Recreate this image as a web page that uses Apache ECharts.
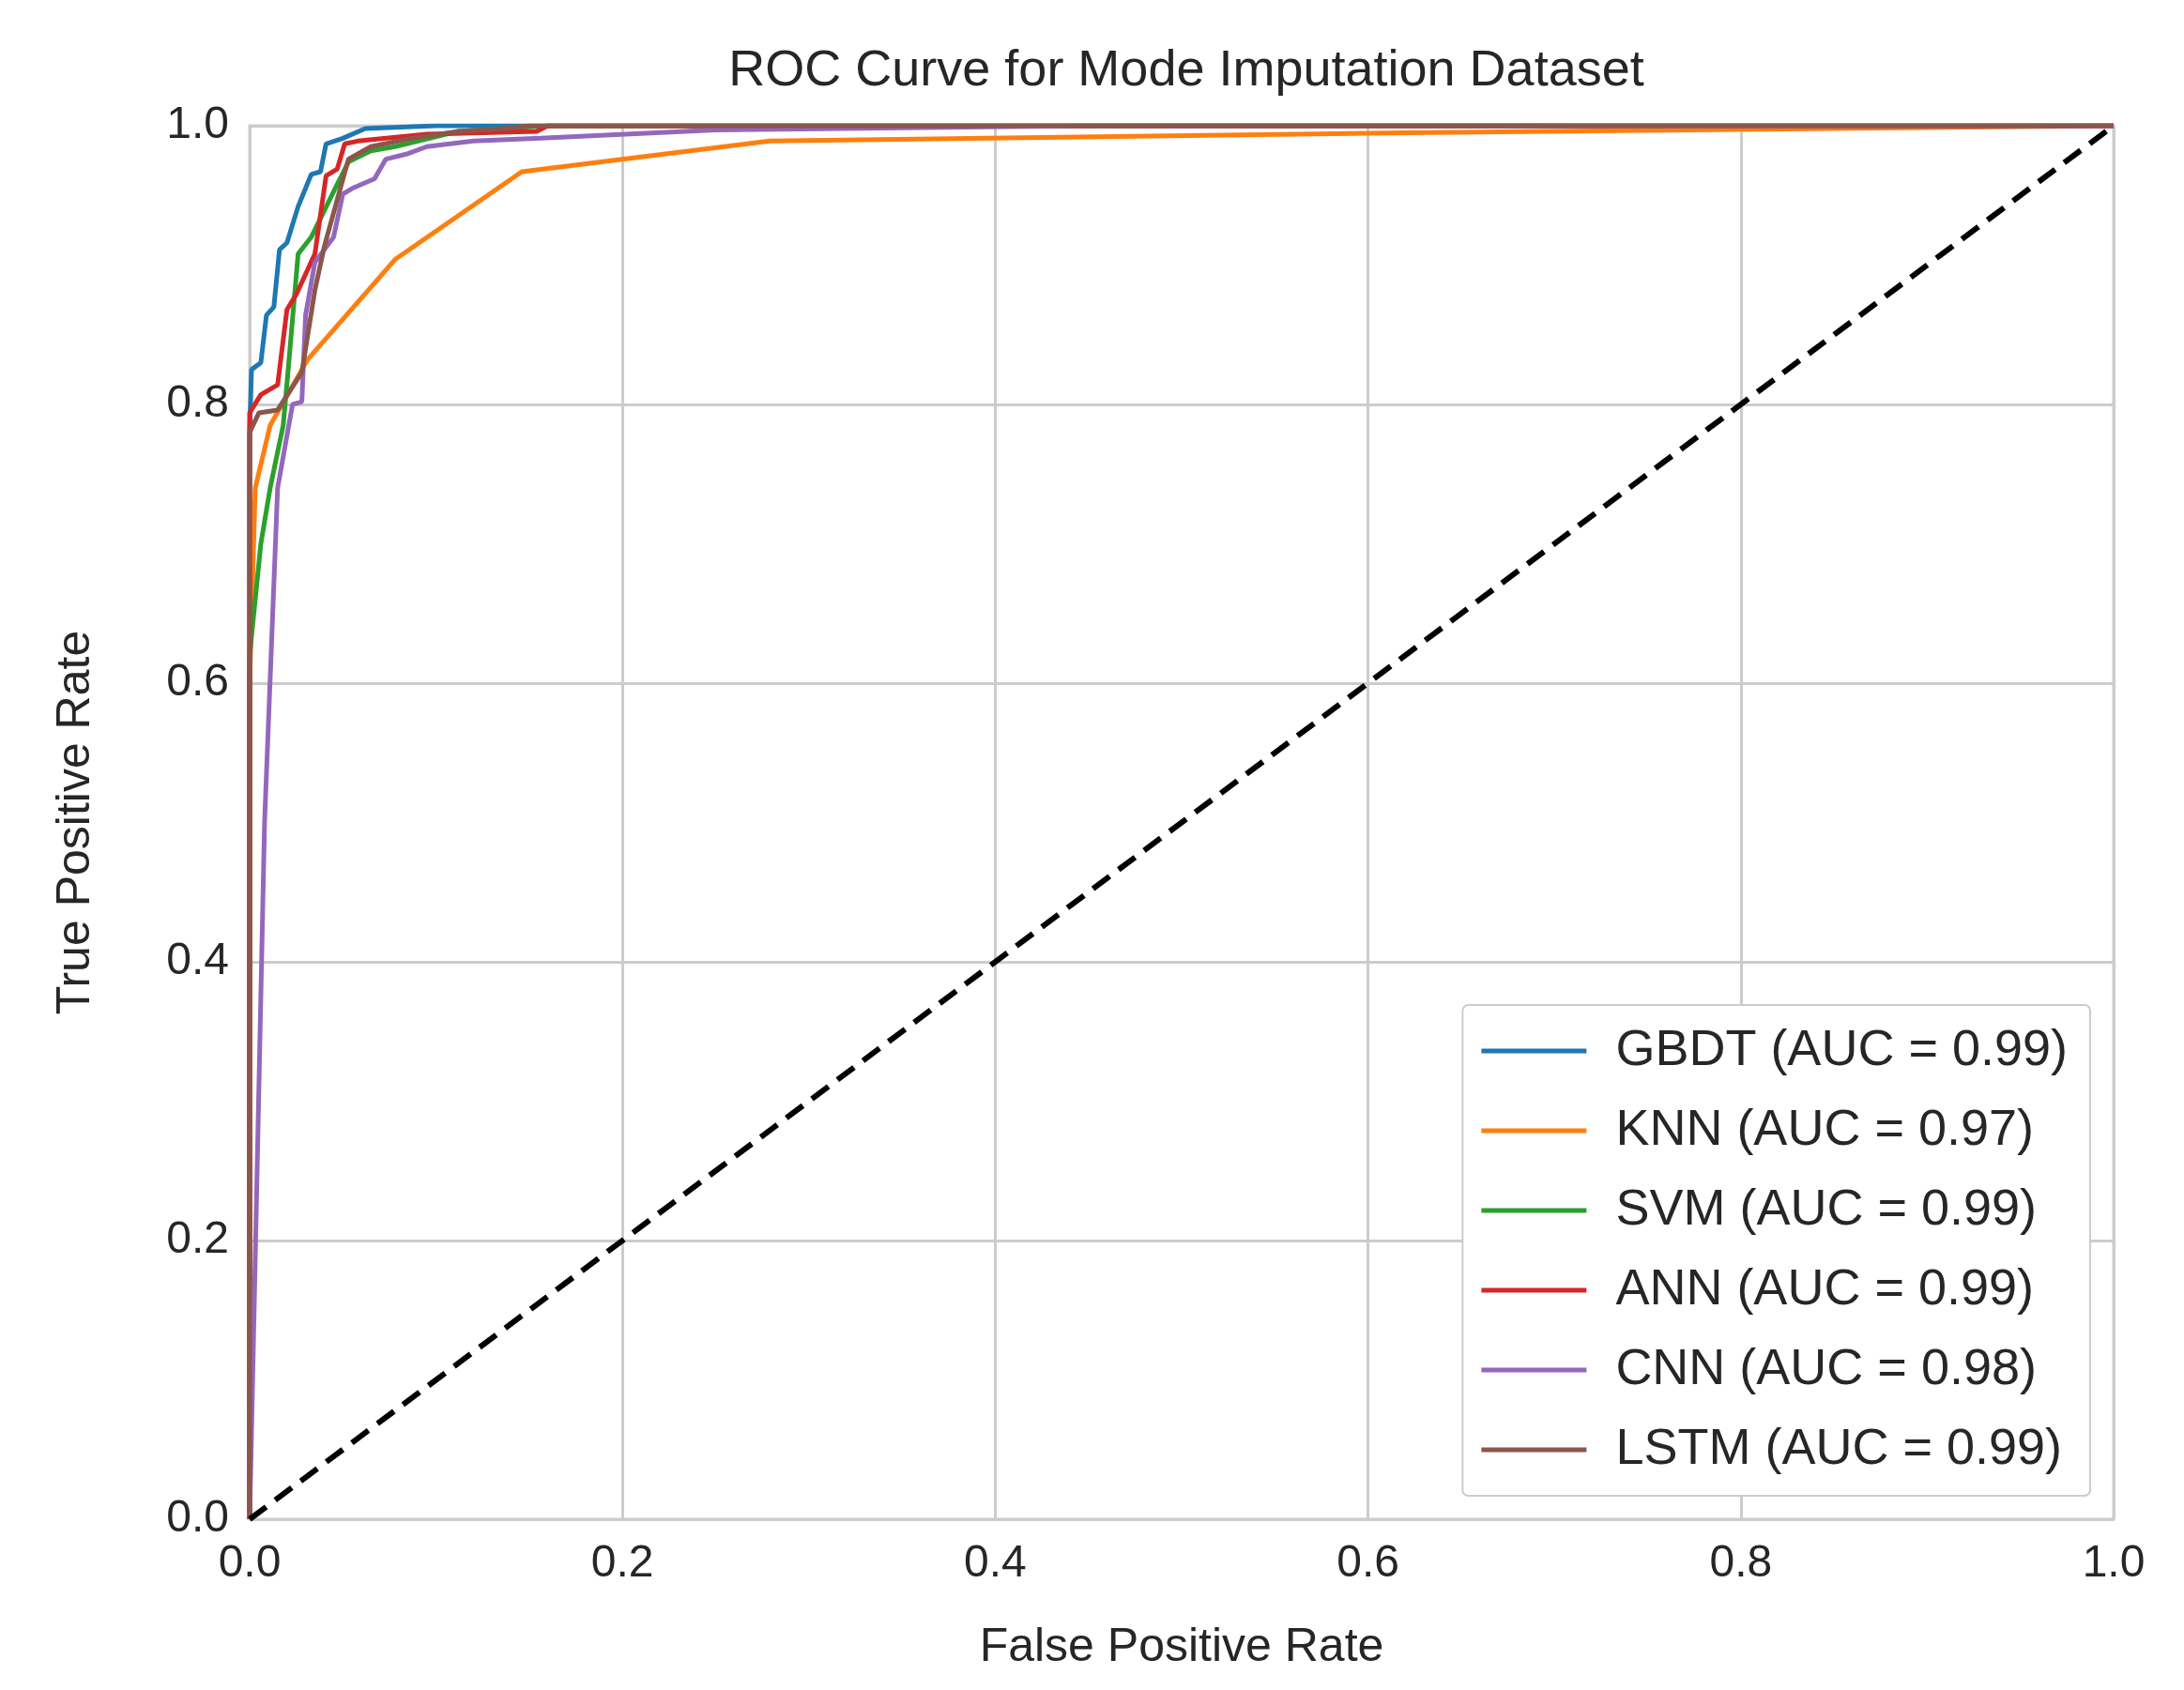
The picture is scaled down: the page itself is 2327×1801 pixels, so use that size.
<!DOCTYPE html>
<html>
<head>
<meta charset="utf-8">
<script src="https://cdn.jsdelivr.net/npm/echarts@6/dist/echarts.min.js"></script>
<style>html,body{margin:0;background:#fff}#c{width:2327px;height:1801px}</style>
</head>
<body>
<div id="c"></div>
<script>
// ROC points [fpr, tpr]
var names = ['GBDT (AUC = 0.99)', 'KNN (AUC = 0.97)', 'SVM (AUC = 0.99)', 'ANN (AUC = 0.99)', 'CNN (AUC = 0.98)', 'LSTM (AUC = 0.99)'];
var colors = ['#1f77b4', '#ff7f0e', '#2ca02c', '#d62728', '#9467bd', '#8c564b'];
var gbdt = [[0,0],[0,0.78],[0.001,0.825],[0.006,0.83],[0.009,0.864],[0.013,0.87],[0.016,0.911],[0.02,0.916],[0.026,0.942],[0.033,0.965],[0.038,0.967],[0.041,0.987],[0.05,0.991],[0.062,0.998],[0.1,1],[1,1]];
var knn = [[0,0],[0,0.6],[0.003,0.74],[0.011,0.785],[0.031,0.832],[0.078,0.904],[0.146,0.967],[0.279,0.989],[0.62,0.995],[1,1]];
var svm = [[0,0],[0,0.62],[0.006,0.7],[0.011,0.74],[0.018,0.785],[0.021,0.83],[0.026,0.908],[0.033,0.92],[0.047,0.958],[0.053,0.974],[0.065,0.982],[0.078,0.985],[0.112,0.996],[0.16,1],[1,1]];
var ann = [[0,0],[0,0.794],[0.006,0.807],[0.015,0.814],[0.02,0.868],[0.025,0.879],[0.035,0.908],[0.041,0.964],[0.047,0.969],[0.051,0.987],[0.058,0.989],[0.095,0.994],[0.154,0.996],[0.16,1],[1,1]];
var cnn = [[0,0],[0.008,0.5],[0.015,0.74],[0.023,0.8],[0.028,0.802],[0.03,0.864],[0.035,0.902],[0.045,0.92],[0.05,0.951],[0.055,0.955],[0.067,0.962],[0.073,0.976],[0.085,0.98],[0.095,0.985],[0.12,0.989],[0.156,0.991],[0.25,0.997],[0.45,1],[1,1]];
var lstm = [[0,0],[0,0.78],[0.005,0.794],[0.015,0.796],[0.028,0.823],[0.035,0.882],[0.04,0.913],[0.047,0.947],[0.053,0.976],[0.065,0.985],[0.087,0.991],[0.112,0.996],[0.137,0.998],[0.15,1],[1,1]];
var diag = [[0,0],[1,1]];
var curves = [gbdt, knn, svm, ann, cnn, lstm];

var txt = '#262626';
var font = 'Liberation Sans';
var series = curves.map(function (d, i) {
  return { name: names[i], type: 'line', data: d, symbol: 'none', color: colors[i],
    lineStyle: { width: 5, color: colors[i] }, z: 3 };
});
series.push({ name: 'diag', type: 'line', data: diag, symbol: 'none',
  lineStyle: { width: 6, color: '#000', type: [22, 12] }, z: 4 });

var chart = echarts.init(document.getElementById('c'));
chart.setOption({
  backgroundColor: '#fff',
  animation: false,
  textStyle: { fontFamily: font, color: txt },
  title: { text: 'ROC Curve for Mode Imputation Dataset', left: 1259, textAlign: 'center', top: 44,
    textStyle: { fontFamily: font, fontSize: 54, fontWeight: 'normal', color: txt } },
  grid: { left: 266, right: 75, top: 134, bottom: 182, show: true, borderColor: '#cccccc', borderWidth: 3 },
  xAxis: { type: 'value', min: 0, max: 1, interval: 0.2,
    name: 'False Positive Rate', nameLocation: 'middle', nameGap: 112,
    nameTextStyle: { fontSize: 50, color: txt, fontFamily: font },
    axisLine: { show: false }, axisTick: { show: false },
    axisLabel: { fontSize: 48, color: txt, margin: 24, formatter: function (v) { return v.toFixed(1); } },
    splitLine: { lineStyle: { color: '#cccccc', width: 3 } } },
  yAxis: { type: 'value', min: 0, max: 1, interval: 0.2,
    name: 'True Positive Rate', nameLocation: 'middle', nameGap: 160,
    nameTextStyle: { fontSize: 50, color: txt, fontFamily: font },
    axisLine: { show: false }, axisTick: { show: false },
    axisLabel: { fontSize: 48, color: txt, margin: 22, formatter: function (v) { return v.toFixed(1); } },
    splitLine: { lineStyle: { color: '#cccccc', width: 3 } } },
  legend: { data: names, orient: 'vertical', right: 100, top: 1071, icon: 'rect',
    backgroundColor: '#fff', borderColor: '#cccccc', borderWidth: 2, borderRadius: 6,
    padding: [22, 24, 22, 20], itemGap: 31, itemWidth: 112, itemHeight: 5,
    textStyle: { fontSize: 54, lineHeight: 54, color: txt, fontFamily: font, padding: [0, 0, 0, 26] } },
  series: series
});
</script>
</body>
</html>
